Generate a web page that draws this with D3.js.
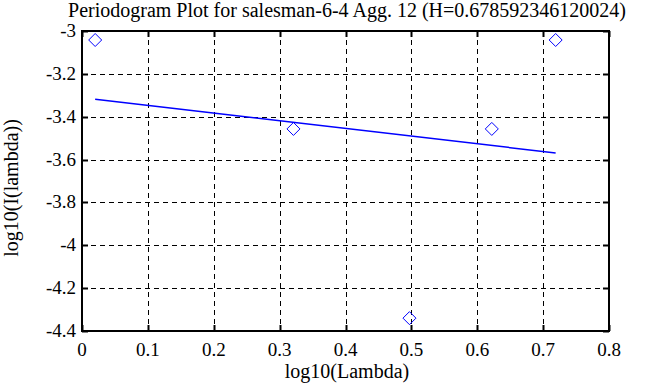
<!DOCTYPE html>
<html><head><meta charset="utf-8">
<script src="https://cdn.jsdelivr.net/npm/d3@7"></script>
<style>body{margin:0;background:#fff}svg{display:block}</style>
</head><body>
<script>
const xVals = [0.0200, 0.3210, 0.4971, 0.6221, 0.7190];
const yVals = [-3.042, -3.457, -4.340, -3.457, -3.042];
const fitX = [0.0200, 0.7190];
const fitY = [-3.319, -3.569];
const xTicks = [0, 0.1, 0.2, 0.3, 0.4, 0.5, 0.6, 0.7, 0.8];
const yTicks = [-3, -3.2, -3.4, -3.6, -3.8, -4, -4.2, -4.4];
const title = "Periodogram Plot for salesman-6-4 Agg. 12 (H=0.678592346120024)";

const W = 668, H = 387;
const L = 82, R = 609, T = 31, B = 331;
const FF = '"Liberation Serif"';
const FS = 19;
const svg = d3.select("body").append("svg").attr("width", W).attr("height", H);
const x = d3.scaleLinear().domain([0, 0.8]).range([L, R]);
const y = d3.scaleLinear().domain([-4.4, -3]).range([B, T]);

const g = svg.append("g");
g.selectAll(".gx").data(xTicks.slice(1, -1)).enter().append("line")
  .attr("x1", d => Math.round(x(d)) + 0.5).attr("x2", d => Math.round(x(d)) + 0.5)
  .attr("y1", T).attr("y2", B).attr("stroke", "#000").attr("stroke-width", 1).attr("stroke-dasharray", "5,4");
g.selectAll(".gy").data(yTicks.slice(1, -1)).enter().append("line")
  .attr("y1", d => Math.round(y(d)) + 0.5).attr("y2", d => Math.round(y(d)) + 0.5)
  .attr("x1", L).attr("x2", R).attr("stroke", "#000").attr("stroke-width", 1).attr("stroke-dasharray", "5,4");

const tl = 6;
xTicks.forEach(d => {
  const xx = Math.round(x(d)) + 0.5;
  g.append("line").attr("x1", xx).attr("x2", xx).attr("y1", B).attr("y2", B - tl).attr("stroke", "#000").attr("stroke-width", 2);
  g.append("line").attr("x1", xx).attr("x2", xx).attr("y1", T).attr("y2", T + tl).attr("stroke", "#000").attr("stroke-width", 2);
});
yTicks.forEach(d => {
  const yy = Math.round(y(d)) + 0.5;
  g.append("line").attr("y1", yy).attr("y2", yy).attr("x1", L).attr("x2", L + tl).attr("stroke", "#000").attr("stroke-width", 2);
  g.append("line").attr("y1", yy).attr("y2", yy).attr("x1", R).attr("x2", R - tl).attr("stroke", "#000").attr("stroke-width", 2);
});

svg.append("rect").attr("x", L).attr("y", T).attr("width", R - L).attr("height", B - T)
  .attr("fill", "none").attr("stroke", "#000").attr("stroke-width", 2);

svg.selectAll(".xl").data(xTicks).enter().append("text")
  .attr("x", d => x(d)).attr("y", B + 25).attr("text-anchor", "middle")
  .style("font-family", FF).style("font-size", FS + "px").text(d => String(d));
svg.selectAll(".yl").data(yTicks).enter().append("text")
  .attr("x", L - 6).attr("y", d => y(d) + 6).attr("text-anchor", "end")
  .style("font-family", FF).style("font-size", FS + "px").text(d => String(d));

svg.append("path").datum(fitX.map((d, i) => [d, fitY[i]]))
  .attr("d", d3.line().x(d => x(d[0])).y(d => y(d[1])))
  .attr("stroke", "#0000ff").attr("stroke-width", 1.5).attr("fill", "none");

svg.selectAll(".pt").data(xVals.map((d, i) => [d, yVals[i]])).enter().append("path")
  .attr("transform", d => `translate(${x(d[0])},${y(d[1])})`)
  .attr("d", "M0,-6.5L6.5,0L0,6.5L-6.5,0Z")
  .attr("fill", "none").attr("stroke", "#0000ff").attr("stroke-width", 1);

svg.append("text").attr("x", 347).attr("y", 17).attr("text-anchor", "middle")
  .style("font-family", FF).style("font-size", "20px").text(title);
svg.append("text").attr("x", 347).attr("y", 378).attr("text-anchor", "middle")
  .style("font-family", FF).style("font-size", "20px").text("log10(Lambda)");
svg.append("text").attr("transform", `translate(18,188) rotate(-90)`).attr("text-anchor", "middle")
  .style("font-family", FF).style("font-size", "20px").text("log10(I(lambda))");
</script>
</body></html>
